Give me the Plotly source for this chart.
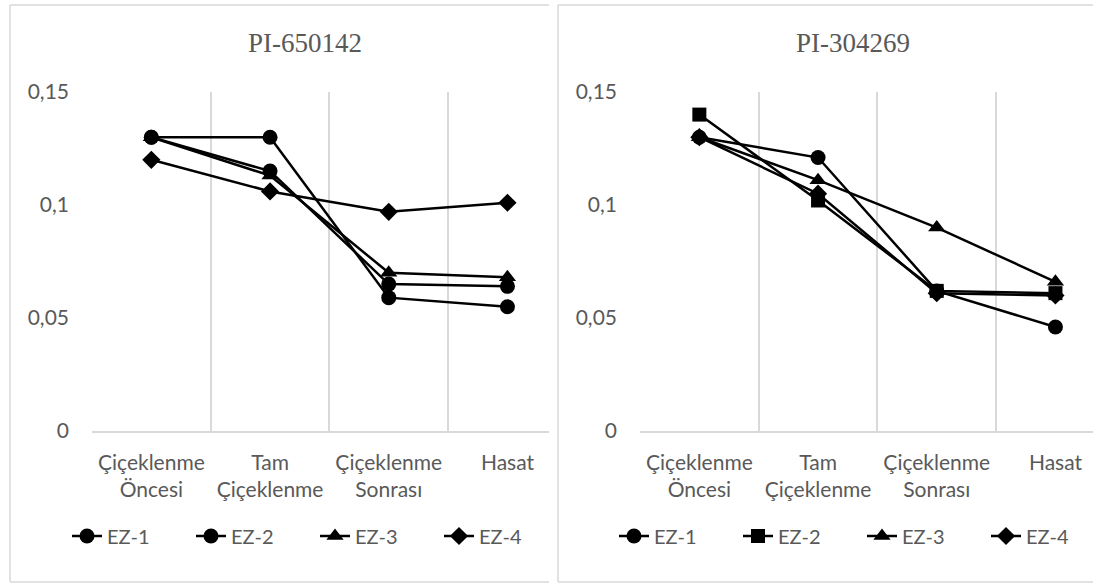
import plotly.graph_objects as go

# Growth stages (category axis) and series names
stages = ["Çiçeklenme<br>Öncesi", "Tam<br>Çiçeklenme", "Çiçeklenme<br>Sonrası", "Hasat"]
series_names = ["EZ-1", "EZ-2", "EZ-3", "EZ-4"]

# PI-650142 values
pi650142_ez1 = [0.130, 0.115, 0.065, 0.064]
pi650142_ez2 = [0.130, 0.130, 0.059, 0.055]
pi650142_ez3 = [0.130, 0.113, 0.070, 0.068]
pi650142_ez4 = [0.120, 0.106, 0.097, 0.101]

# PI-304269 values
pi304269_ez1 = [0.130, 0.121, 0.062, 0.046]
pi304269_ez2 = [0.140, 0.102, 0.062, 0.061]
pi304269_ez3 = [0.130, 0.111, 0.090, 0.066]
pi304269_ez4 = [0.130, 0.105, 0.061, 0.060]

# Y axis ticks (decimal comma)
y_tickvals = [0, 0.05, 0.10, 0.15]
y_ticktext = ["0", "0,05", "0,1", "0,15"]

titles = ["PI-650142", "PI-304269"]

W, H = 1093, 583
GRAY = "#595959"
GRID = "#d9d9d9"
FONT = "Lato, 'Noto Sans', sans-serif"

left_symbols = ["circle", "circle", "triangle-up", "diamond"]
right_symbols = ["circle", "square", "triangle-up", "diamond"]
sizes = {"circle": 15, "square": 14, "triangle-up": 15, "diamond": 14}

x_idx = list(range(len(stages)))

fig = go.Figure()

left_data = [pi650142_ez1, pi650142_ez2, pi650142_ez3, pi650142_ez4]
right_data = [pi304269_ez1, pi304269_ez2, pi304269_ez3, pi304269_ez4]

for name, ys, sym in zip(series_names, left_data, left_symbols):
    fig.add_trace(go.Scatter(
        x=x_idx, y=ys, name=name, mode="lines+markers",
        line=dict(color="black", width=2.5),
        marker=dict(symbol=sym, size=sizes[sym], color="black"),
        xaxis="x", yaxis="y", legend="legend",
    ))

for name, ys, sym in zip(series_names, right_data, right_symbols):
    fig.add_trace(go.Scatter(
        x=x_idx, y=ys, name=name, mode="lines+markers",
        line=dict(color="black", width=2.5),
        marker=dict(symbol=sym, size=sizes[sym], color="black"),
        xaxis="x2", yaxis="y2", legend="legend2",
    ))

# plot-area geometry in pixels
cat_step = 118.7
left_x0, left_x1 = 92, 549
right_x0, right_x1 = 640, 1093
plot_top, plot_bottom = 92, 431

def px_x(v):
    return v / W

def px_y(v):
    return (H - v) / H

def xaxis_cfg(x0, x1):
    return dict(
        domain=[px_x(x0), px_x(x1)],
        range=[-0.5, -0.5 + (x1 - x0) / cat_step],
        tickvals=x_idx, ticktext=stages,
        showgrid=False, zeroline=False,
        showline=True, linecolor=GRID, linewidth=1.5,
        ticks="", ticklabelstandoff=12,
        tickfont=dict(family=FONT, size=21, color=GRAY),
        minor=dict(tickvals=[-0.5, 0.5, 1.5, 2.5, 3.5], showgrid=True,
                   gridcolor=GRID, gridwidth=1.5, ticks=""),
        fixedrange=True,
    )

def yaxis_cfg(anchor):
    return dict(
        domain=[px_y(plot_bottom), px_y(plot_top)],
        range=[0, 0.15], tickvals=y_tickvals, ticktext=y_ticktext,
        showgrid=False, zeroline=False, showline=False, ticks="",
        ticklabelstandoff=22,
        tickfont=dict(family=FONT, size=21, color=GRAY),
        anchor=anchor, fixedrange=True,
    )

legend_style = dict(orientation="h", xanchor="left", yanchor="middle",
                    font=dict(family=FONT, size=20, color=GRAY),
                    entrywidth=79, entrywidthmode="pixels", itemclick=False,
                    bgcolor="rgba(0,0,0,0)", borderwidth=0)

fig.update_layout(
    width=W, height=H,
    margin=dict(l=0, r=0, t=0, b=0, autoexpand=False),
    paper_bgcolor="white", plot_bgcolor="white",
    showlegend=True,
    xaxis=dict(xaxis_cfg(left_x0, left_x1), anchor="y"),
    yaxis=yaxis_cfg("x"),
    xaxis2=dict(xaxis_cfg(right_x0, right_x1), anchor="y2"),
    yaxis2=yaxis_cfg("x2"),
    legend=dict(legend_style, x=px_x(67), y=px_y(536)),
    legend2=dict(legend_style, x=px_x(614), y=px_y(536)),
)

# panel titles
for title, cx in zip(titles, [305, 853]):
    fig.add_annotation(
        text=title, xref="paper", yref="paper", x=px_x(cx), y=px_y(43),
        xanchor="center", yanchor="middle", showarrow=False,
        font=dict(family="'Liberation Serif', 'Times New Roman', serif", size=27, color=GRAY),
    )

# chart frames
frame = dict(color=GRID, width=1.5)
for x0, x1 in [(10, 549), (558, 1093)]:
    fig.add_shape(type="line", xref="paper", yref="paper",
                  x0=px_x(x0), x1=px_x(x1), y0=px_y(5), y1=px_y(5), line=frame)
    fig.add_shape(type="line", xref="paper", yref="paper",
                  x0=px_x(x0), x1=px_x(x1), y0=px_y(582), y1=px_y(582), line=frame)
    fig.add_shape(type="line", xref="paper", yref="paper",
                  x0=px_x(x0), x1=px_x(x0), y0=px_y(5), y1=px_y(582), line=frame)

fig.write_html("out.html")
